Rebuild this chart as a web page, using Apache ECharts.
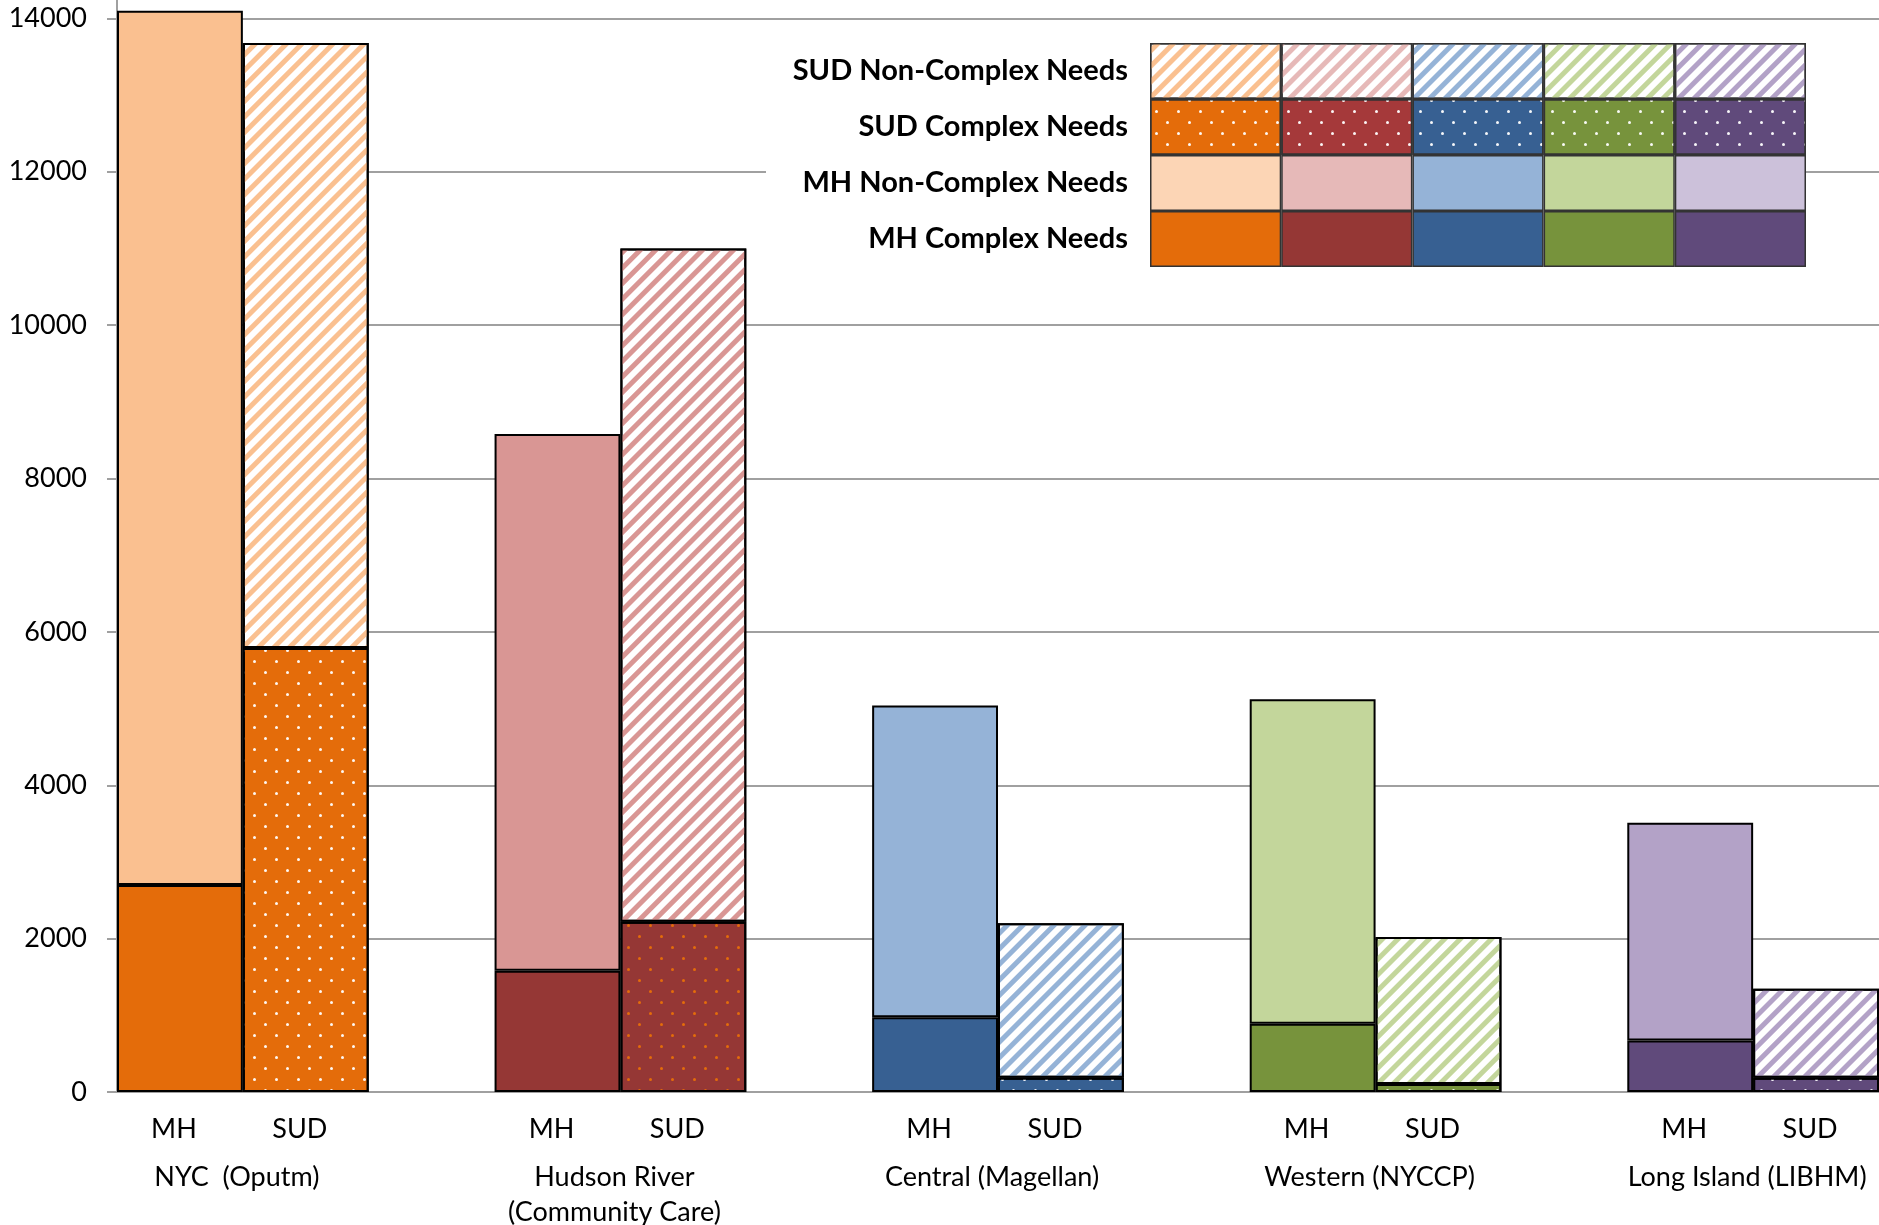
<!DOCTYPE html>
<html><head><meta charset="utf-8">
<script src="https://cdn.jsdelivr.net/npm/echarts@6/dist/echarts.min.js"></script>
<style>html,body{margin:0;padding:0;background:#fff}#c{width:1879px;height:1225px}</style>
</head><body><div id="c"></div>
<script>
// ---------- data ----------
const slotLabels = ['MH','SUD','','MH','SUD','','MH','SUD','','MH','SUD','','MH','SUD'];
const regions = ['NYC  (Oputm)','Hudson River\n(Community Care)','Central (Magellan)','Western (NYCCP)','Long Island (LIBHM)'];
const mhComplex     = [2700, 1580, 975, 890, 670];
const mhNonComplex  = [11400, 7000, 4065, 4230, 2840];
const sudComplex    = [5790, 2220, 185, 105, 185];
const sudNonComplex = [7890, 8780, 2015, 1915, 1160];
const yMin = 0, yMax = 16000, yInterval = 2000;
const legendRows = ['SUD Non-Complex Needs','SUD Complex Needs','MH Non-Complex Needs','MH Complex Needs'];

// ---------- styles ----------
const darkColors  = ['#e46c0a','#953735','#376092','#77933c','#604a7b'];
const lightColors = ['#fac090','#d99694','#95b3d7','#c3d69b','#b3a2c7'];
const dotColors   = ['rgba(255,255,255,0.95)','#e46c0a','rgba(255,255,255,0.95)','rgba(255,255,255,0.95)','rgba(255,255,255,0.95)'];
const legStripe   = ['#fac090','#e6b9b8','#95b3d7','#c3d69b','#b3a2c7'];
const legDotBase  = ['#e46c0a','#a5393a','#376092','#77933c','#604a7b'];
const legLight    = ['#fcd5b5','#e6b9b8','#95b3d7','#c3d69b','#ccc1da'];
const legDark     = ['#e46c0a','#953735','#376092','#77933c','#604a7b'];
const FONT = 'Lato';
const GRID_COLOR = '#a0a0a0';

function stripe(color){
  return {symbol:'rect', symbolSize:1, color:color, dashArrayX:[1,0], dashArrayY:[5,6], rotation:-Math.PI/4};
}
function dots(color){
  return {symbol:'circle', symbolSize:1, color:color, dashArrayX:[[3,19],[0,11,3,8]], dashArrayY:[3,8], rotation:0};
}
const border = {borderColor:'#000', borderWidth:2};

function slotData(values, offset, styleFn){
  const arr = slotLabels.map(() => null);
  values.forEach((v, i) => { arr[i * 3 + offset] = {value: v, itemStyle: styleFn(i)}; });
  return arr;
}

const groupLabels = [];
for (let i = 0; i <= slotLabels.length; i++) groupLabels.push('');
regions.forEach((r, i) => { groupLabels[i * 3 + 1] = r; });

const mainSeries = [
  {name:'MH Complex Needs', data: slotData(mhComplex, 0, i => Object.assign({color: darkColors[i]}, border))},
  {name:'MH Non-Complex Needs', data: slotData(mhNonComplex, 0, i => Object.assign({color: lightColors[i]}, border))},
  {name:'SUD Complex Needs', data: slotData(sudComplex, 1, i => Object.assign({color: darkColors[i], decal: dots(dotColors[i])}, border))},
  {name:'SUD Non-Complex Needs', data: slotData(sudNonComplex, 1, i => Object.assign({color: '#ffffff', decal: stripe(lightColors[i])}, border))}
].map(s => Object.assign({type:'bar', stack:'total', xAxisIndex:0, yAxisIndex:0, barCategoryGap:'0%', barGap:'0%', clip:false, z:2, silent:true}, s));

function legendStyle(row, r){
  const b = {borderColor:'#333', borderWidth:1.5};
  if (row === 0) return Object.assign({color:'#ffffff', decal: stripe(legStripe[r])}, b);
  if (row === 1) return Object.assign({color: legDotBase[r], decal: dots('rgba(255,255,255,0.95)')}, b);
  if (row === 2) return Object.assign({color: legLight[r]}, b);
  return Object.assign({color: legDark[r]}, b);
}
const legendSeries = regions.map((reg, r) => ({
  type:'bar', stack:'leg', xAxisIndex:2, yAxisIndex:1, barCategoryGap:'0%', z:3, silent:true,
  data: legendRows.map((row, k) => ({value:1, itemStyle: legendStyle(k, r)}))
}));

const chart = echarts.init(document.getElementById('c'), null, {renderer:'canvas'});
chart.setOption({
  animation:false,
  backgroundColor:'#ffffff',
  textStyle:{fontFamily:FONT},
  grid:[
    {left:117, right:0, top:-135, bottom:133, outerBoundsMode:'none', containLabel:false},
    {left:1150, top:43, width:656, height:224, outerBoundsMode:'none', containLabel:false}
  ],
  graphic:{elements:[{type:'rect', shape:{x:766, y:30, width:1040, height:250}, style:{fill:'#ffffff'}, z:1, silent:true}]},
  xAxis:[
    {type:'category', gridIndex:0, data:slotLabels, boundaryGap:true,
     axisLine:{show:true, lineStyle:{color:GRID_COLOR, width:2}}, axisTick:{show:false}, splitLine:{show:false},
     axisLabel:{interval:0, color:'#000', fontFamily:FONT, fontSize:27, margin:20, lineHeight:34, padding:[0,12,0,0]}},
    {type:'category', gridIndex:0, data:groupLabels, boundaryGap:false, position:'bottom',
     axisLine:{show:false}, axisTick:{show:false}, splitLine:{show:false},
     axisLabel:{interval:0, color:'#000', fontFamily:FONT, fontSize:27, margin:68, lineHeight:35, hideOverlap:false, padding:[0,12,0,0]}},
    {type:'value', gridIndex:1, min:0, max:5, show:false, splitLine:{show:false}}
  ],
  yAxis:[
    {type:'value', gridIndex:0, min:yMin, max:yMax, interval:yInterval,
     axisLine:{show:true, lineStyle:{color:GRID_COLOR, width:2}},
     axisTick:{show:true, length:10, lineStyle:{color:GRID_COLOR, width:2}},
     splitLine:{show:true, lineStyle:{color:GRID_COLOR, width:2}},
     axisLabel:{color:'#000', fontFamily:FONT, fontSize:27, margin:30, formatter: v => String(v)}},
    {type:'category', gridIndex:1, data:legendRows, inverse:true, z:4,
     axisLine:{show:false}, axisTick:{show:false}, splitLine:{show:false},
     axisLabel:{color:'#000', fontFamily:FONT, fontSize:29, fontWeight:'bold', margin:22}}
  ],
  series: mainSeries.concat(legendSeries)
});
</script></body></html>
